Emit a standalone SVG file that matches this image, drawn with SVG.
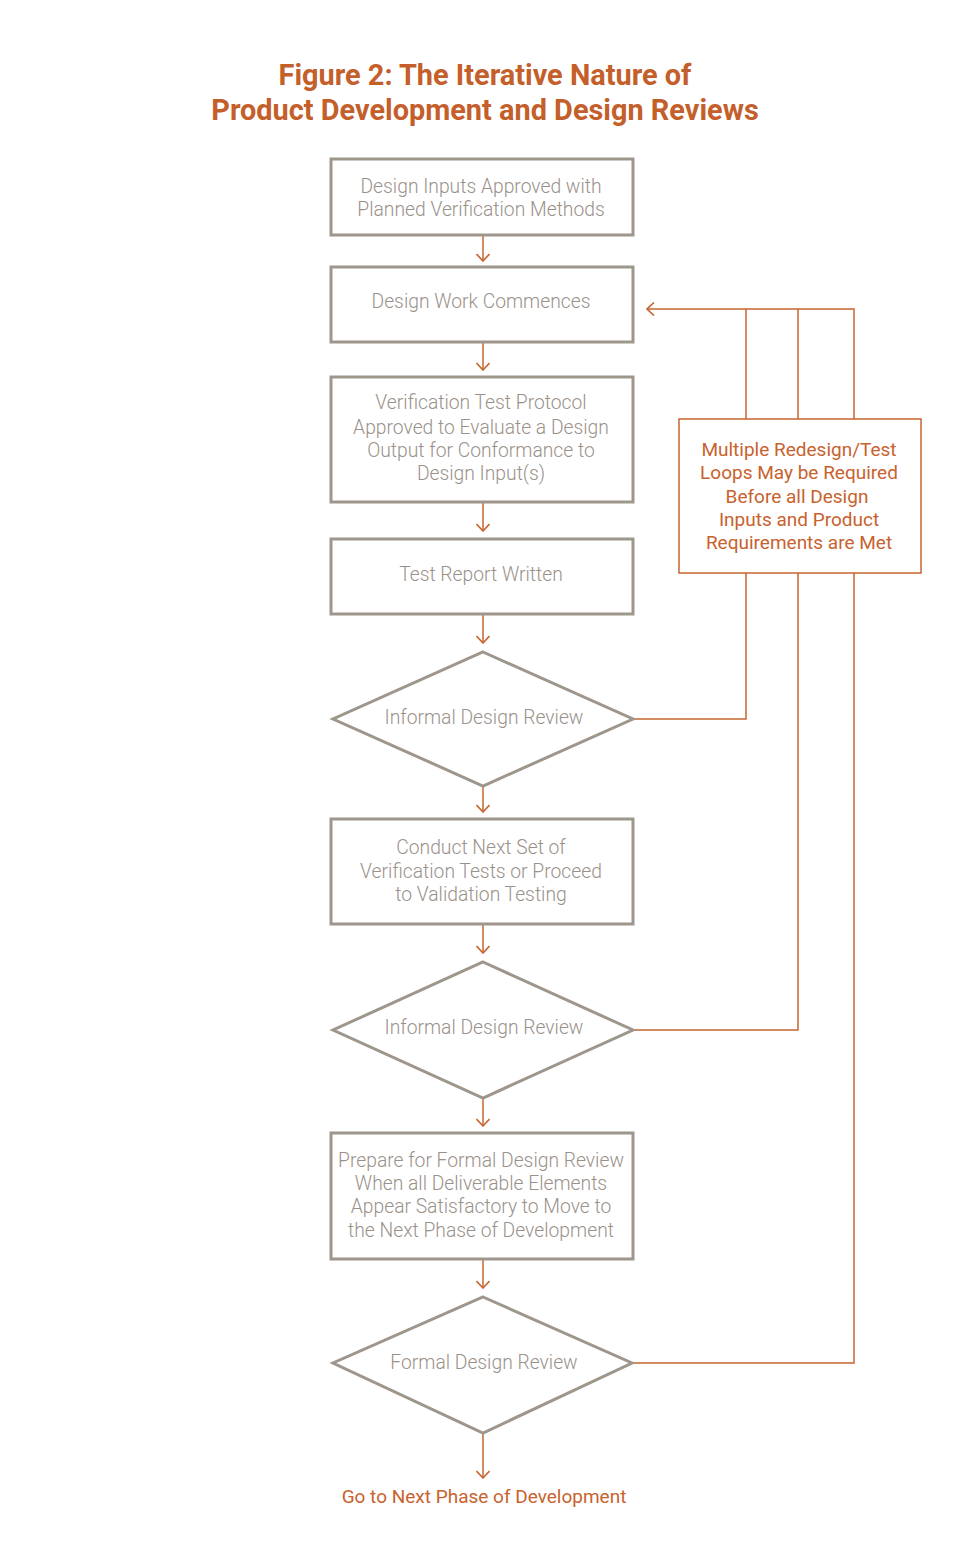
<svg xmlns="http://www.w3.org/2000/svg" width="970" height="1565" viewBox="0 0 970 1565">
<style>
.box{fill:#fff;stroke:#9e958c;stroke-width:3}
.obox{fill:#fff;stroke:#c8652f;stroke-width:1.5}
.t{font-family:Roboto,"Liberation Sans",sans-serif;font-weight:300;font-size:19.3px;fill:#9a918a;text-anchor:middle}
.o{font-family:Roboto,"Liberation Sans",sans-serif;font-weight:400;font-size:19px;fill:#c8622e;text-anchor:middle}
.title{font-family:Roboto,"Liberation Sans",sans-serif;font-weight:700;font-size:28.9px;fill:#c45f2b;text-anchor:middle}
.c{fill:none;stroke:#c8652f;stroke-width:1.5}
</style>
<defs>
<marker id="ah" viewBox="0 0 14 14" refX="13" refY="7" markerWidth="14" markerHeight="14" markerUnits="userSpaceOnUse" orient="auto">
<path d="M6,0.5 L13,7 L6,13.5" fill="none" stroke="#c8652f" stroke-width="1.6"/>
</marker>
</defs>
<rect width="970" height="1565" fill="#fff"/>
<g id="title">
<text class="title" x="485" y="85">Figure 2: The Iterative Nature of</text>
<text class="title" x="485" y="120">Product Development and Design Reviews</text>
</g>
<g id="connectors">
<line class="c" x1="483" y1="236" x2="483" y2="261" marker-end="url(#ah)"/>
<line class="c" x1="483" y1="343" x2="483" y2="370" marker-end="url(#ah)"/>
<line class="c" x1="483" y1="503" x2="483" y2="531" marker-end="url(#ah)"/>
<line class="c" x1="483" y1="615" x2="483" y2="643" marker-end="url(#ah)"/>
<line class="c" x1="483" y1="787" x2="483" y2="812" marker-end="url(#ah)"/>
<line class="c" x1="483" y1="925" x2="483" y2="953" marker-end="url(#ah)"/>
<line class="c" x1="483" y1="1099" x2="483" y2="1126" marker-end="url(#ah)"/>
<line class="c" x1="483" y1="1260" x2="483" y2="1288" marker-end="url(#ah)"/>
<line class="c" x1="483" y1="1434" x2="483" y2="1478" marker-end="url(#ah)"/>
<polyline class="c" points="633,719 746,719 746,573"/>
<polyline class="c" points="633,1030 798,1030 798,573"/>
<polyline class="c" points="633,1363 854,1363 854,573"/>
<line class="c" x1="746" y1="419" x2="746" y2="309"/>
<line class="c" x1="798" y1="419" x2="798" y2="309"/>
<polyline class="c" points="854,419 854,309 647,309" marker-end="url(#ah)"/>
</g>
<g id="n1"><rect class="box" x="331" y="159" width="302" height="76"/>
<text class="t" x="481" y="193">Design Inputs Approved with</text>
<text class="t" x="481" y="216">Planned Verification Methods</text></g>
<g id="n2"><rect class="box" x="331" y="267" width="302" height="75"/>
<text class="t" x="481" y="308">Design Work Commences</text></g>
<g id="n3"><rect class="box" x="331" y="377" width="302" height="125"/>
<text class="t" x="481" y="409">Verification Test Protocol</text>
<text class="t" x="481" y="434">Approved to Evaluate a Design</text>
<text class="t" x="481" y="457">Output for Conformance to</text>
<text class="t" x="481" y="480">Design Input(s)</text></g>
<g id="n4"><rect class="box" x="331" y="539" width="302" height="75"/>
<text class="t" x="481" y="581">Test Report Written</text></g>
<g id="d1"><polygon class="box" points="483,652 633,719 483,786 333,719"/>
<text class="t" x="484" y="724">Informal Design Review</text></g>
<g id="n5"><rect class="box" x="331" y="819" width="302" height="105"/>
<text class="t" x="481" y="854">Conduct Next Set of</text>
<text class="t" x="481" y="878">Verification Tests or Proceed</text>
<text class="t" x="481" y="901">to Validation Testing</text></g>
<g id="d2"><polygon class="box" points="483,962 633,1030 483,1098 333,1030"/>
<text class="t" x="484" y="1034">Informal Design Review</text></g>
<g id="n6"><rect class="box" x="331" y="1133" width="302" height="126"/>
<text class="t" x="481" y="1167">Prepare for Formal Design Review</text>
<text class="t" x="481" y="1190">When all Deliverable Elements</text>
<text class="t" x="481" y="1213">Appear Satisfactory to Move to</text>
<text class="t" x="481" y="1237">the Next Phase of Development</text></g>
<g id="d3"><polygon class="box" points="483,1297 632,1363 483,1433 333,1363"/>
<text class="t" x="484" y="1369">Formal Design Review</text></g>
<g id="note"><rect class="obox" x="679" y="419" width="242" height="154"/>
<text class="o" x="799" y="456">Multiple Redesign/Test</text>
<text class="o" x="799" y="479">Loops May be Required</text>
<text class="o" x="797" y="503">Before all Design</text>
<text class="o" x="799" y="526">Inputs and Product</text>
<text class="o" x="799" y="549">Requirements are Met</text></g>
<g id="end"><text class="o" x="484" y="1503">Go to Next Phase of Development</text></g>
</svg>
